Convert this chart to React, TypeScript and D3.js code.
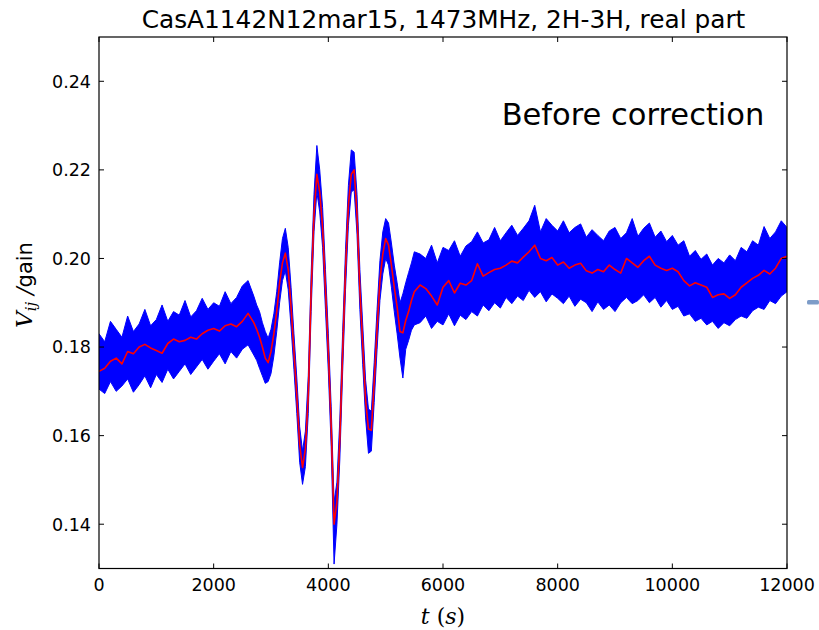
import React from "react";
import * as d3 from "d3";

// time samples (s): 100 s steps, 50 s steps across the fringe oscillation
const timesA = [0,100,200,300,400,500,600,700,800,900,1000,1100,1200,1300,1400,1500,1600,1700,1800,1900,2000,2100,2200,2300,2400,2500,2600,2700];
const timesB = [2750,2800,2850,2900,2950,3000,3050,3100,3150,3200,3250,3300,3350,3400,3450,3500,3550,3600,3650,3700,3750,3800,3850,3900,3950,4000,4050,4100,4150,4200,4250,4300,4350,4400,4450,4500,4550,4600,4650,4700,4750,4800,4850,4900,4950,5000,5050,5100,5150,5200,5250,5300,5350,5400,5450,5500];
const timesC = [5600,5700,5800,5900,6000,6100,6200,6300,6400,6500,6600,6700,6800,6900,7000,7100,7200,7300,7400,7500,7600,7700,7800,7900,8000,8100,8200,8300,8400,8500,8600,8700,8800,8900,9000,9100,9200,9300,9400,9500,9600,9700,9800,9900,10000,10100,10200,10300,10400,10500,10600,10700,10800,10900,11000,11100,11200,11300,11400,11500,11600,11700,11800,11900,12000];

// smoothed (red) series
const smoothA = [0.1745,0.1752,0.1768,0.1775,0.1762,0.1790,0.1785,0.1800,0.1806,0.1798,0.1792,0.1786,0.1808,0.1818,0.1812,0.1815,0.1822,0.1818,0.1830,0.1838,0.1842,0.1836,0.1848,0.1852,0.1846,0.1858,0.1876,0.1855];
const smoothB = [0.1840,0.1822,0.1800,0.1775,0.1765,0.1790,0.1830,0.1880,0.1945,0.1990,0.2012,0.1975,0.1890,0.1790,0.1690,0.1580,0.1528,0.1570,0.1690,0.1925,0.2100,0.2190,0.2150,0.2070,0.1930,0.1790,0.1620,0.1400,0.1450,0.1590,0.1790,0.1975,0.2120,0.2190,0.2200,0.2100,0.1930,0.1805,0.1680,0.1615,0.1612,0.1720,0.1840,0.1950,0.2010,0.2045,0.2030,0.1985,0.1935,0.1890,0.1835,0.1832,0.1860,0.1880,0.1905,0.1925];
const smoothC = [0.1940,0.1932,0.1915,0.1895,0.1935,0.1950,0.1922,0.1944,0.1940,0.1950,0.1988,0.1960,0.1968,0.1975,0.1978,0.1985,0.1994,0.1990,0.2003,0.2015,0.2030,0.2000,0.1995,0.2002,0.1985,0.1992,0.1978,0.1985,0.1989,0.1972,0.1967,0.1975,0.1970,0.1985,0.1975,0.1967,0.2000,0.1990,0.1980,0.1995,0.2005,0.1985,0.1978,0.1973,0.1978,0.1970,0.1950,0.1938,0.1945,0.1940,0.1935,0.1912,0.1918,0.1920,0.1910,0.1918,0.1935,0.1945,0.1955,0.1962,0.1973,0.1965,0.1978,0.2000,0.2005];

// raw (blue) series: upper and lower extent of the noise
const rawHighA = [0.1830,0.1812,0.1858,0.1840,0.1822,0.1870,0.1835,0.1852,0.1885,0.1848,0.1862,0.1895,0.1858,0.1880,0.1872,0.1905,0.1868,0.1882,0.1910,0.1885,0.1900,0.1892,0.1925,0.1898,0.1912,0.1938,0.1950,0.1915];
const rawLowA = [0.1705,0.1695,0.1722,0.1700,0.1712,0.1728,0.1698,0.1715,0.1735,0.1708,0.1738,0.1720,0.1750,0.1728,0.1745,0.1762,0.1738,0.1755,0.1772,0.1750,0.1768,0.1785,0.1762,0.1790,0.1775,0.1795,0.1805,0.1782];
const rawHighB = [0.1895,0.1880,0.1855,0.1835,0.1820,0.1840,0.1875,0.1925,0.1990,0.2045,0.2068,0.2025,0.1935,0.1830,0.1730,0.1620,0.1565,0.1610,0.1735,0.1965,0.2145,0.2255,0.2200,0.2115,0.1975,0.1830,0.1665,0.1450,0.1495,0.1635,0.1835,0.2020,0.2165,0.2245,0.2240,0.2145,0.1975,0.1850,0.1725,0.1660,0.1655,0.1765,0.1885,0.1995,0.2060,0.2090,0.2080,0.2035,0.1985,0.1945,0.1900,0.1920,0.1945,0.1968,0.1990,0.2015];
const rawLowB = [0.1770,0.1752,0.1735,0.1718,0.1722,0.1740,0.1780,0.1835,0.1900,0.1950,0.1972,0.1930,0.1845,0.1750,0.1650,0.1540,0.1490,0.1530,0.1650,0.1880,0.2060,0.2150,0.2105,0.2025,0.1885,0.1745,0.1575,0.1310,0.1400,0.1545,0.1745,0.1930,0.2075,0.2150,0.2155,0.2055,0.1885,0.1760,0.1640,0.1560,0.1565,0.1675,0.1795,0.1905,0.1965,0.2000,0.1985,0.1935,0.1880,0.1830,0.1775,0.1730,0.1795,0.1815,0.1838,0.1850];
const rawHighC = [0.2010,0.2000,0.2030,0.1990,0.2025,0.2018,0.2040,0.2005,0.2028,0.2038,0.2060,0.2035,0.2042,0.2070,0.2040,0.2058,0.2075,0.2052,0.2068,0.2085,0.2120,0.2060,0.2090,0.2075,0.2062,0.2085,0.2058,0.2070,0.2078,0.2048,0.2065,0.2052,0.2040,0.2062,0.2070,0.2045,0.2058,0.2090,0.2050,0.2068,0.2080,0.2048,0.2062,0.2038,0.2052,0.2030,0.2040,0.2005,0.2018,0.1998,0.2010,0.1985,0.2000,0.1990,0.2008,0.1995,0.2025,0.2015,0.2040,0.2030,0.2072,0.2045,0.2060,0.2085,0.2070];
const rawLowC = [0.1855,0.1870,0.1842,0.1858,0.1850,0.1875,0.1848,0.1872,0.1862,0.1880,0.1870,0.1895,0.1882,0.1900,0.1888,0.1912,0.1898,0.1915,0.1905,0.1928,0.1912,0.1925,0.1902,0.1920,0.1910,0.1898,0.1915,0.1892,0.1908,0.1900,0.1880,0.1902,0.1885,0.1895,0.1880,0.1900,0.1912,0.1898,0.1905,0.1918,0.1900,0.1912,0.1890,0.1905,0.1885,0.1892,0.1870,0.1875,0.1858,0.1865,0.1850,0.1858,0.1842,0.1855,0.1848,0.1862,0.1870,0.1865,0.1882,0.1890,0.1885,0.1905,0.1898,0.1915,0.1925];

const xTicks = [0, 2000, 4000, 6000, 8000, 10000, 12000];
const yTicks = [0.14, 0.16, 0.18, 0.20, 0.22, 0.24];

const times = [...timesA, ...timesB, ...timesC];
const smooth = [...smoothA, ...smoothB, ...smoothC];
const rawHigh = [...rawHighA, ...rawHighB, ...rawHighC];
const rawLow = [...rawLowA, ...rawLowB, ...rawLowC];

const W = 819, H = 630;
const L = 99, R = 787, T = 37, B = 568.5;

export default function App() {
  const x = d3.scaleLinear().domain([0, 12000]).range([L, R]);
  const y = d3.scaleLinear().domain([0.13, 0.25]).range([B, T]);

  const idx = d3.range(times.length);
  const area = d3.area<number>()
    .x((i) => x(times[i]))
    .y0((i) => y(rawLow[i]))
    .y1((i) => y(rawHigh[i]));
  const redPath = d3.line<number>().x((i) => x(times[i])).y((i) => y(smooth[i]))(idx) || "";

  const sans = "'DejaVu Sans', sans-serif";
  const serif = "'DejaVu Serif', serif";
  const tl = 5;

  return (
    <svg width={W} height={H} style={{ position: "absolute", left: 0, top: 0, background: "#fff" }}>
      <defs>
        <clipPath id="plot">
          <rect x={L} y={T} width={R - L} height={B - T} />
        </clipPath>
      </defs>
      <rect x={0} y={0} width={W} height={H} fill="#fff" />
      <g clipPath="url(#plot)">
        <path d={area(idx) || ""} fill="#0000ff" stroke="#0000ff" strokeWidth={1} strokeLinejoin="miter" strokeMiterlimit={10} />
        <path d={redPath} fill="none" stroke="#ff0000" strokeWidth={1.6} strokeLinejoin="round" />
      </g>
      {/* frame */}
      <rect x={L} y={T} width={R - L} height={B - T} fill="none" stroke="#000" strokeWidth={1.2} />
      {xTicks.map((t) => (
        <g key={"x" + t}>
          <line x1={x(t)} x2={x(t)} y1={B} y2={B - tl} stroke="#000" strokeWidth={1} />
          <line x1={x(t)} x2={x(t)} y1={T} y2={T + tl} stroke="#000" strokeWidth={1} />
          <text x={x(t)} y={591} textAnchor="middle" fontFamily={sans} fontSize={17.5} fill="#000">{t}</text>
        </g>
      ))}
      {yTicks.map((v) => (
        <g key={"y" + v}>
          <line x1={L} x2={L + tl} y1={y(v)} y2={y(v)} stroke="#000" strokeWidth={1} />
          <line x1={R} x2={R - tl} y1={y(v)} y2={y(v)} stroke="#000" strokeWidth={1} />
          <text x={91} y={y(v) + 6.3} textAnchor="end" fontFamily={sans} fontSize={17.5} fill="#000">{v.toFixed(2)}</text>
        </g>
      ))}
      <text x={443.5} y={28} textAnchor="middle" fontFamily={sans} fontSize={24.8} fill="#000">
        CasA1142N12mar15, 1473MHz, 2H-3H, real part
      </text>
      <text x={633} y={125} textAnchor="middle" fontFamily={sans} fontSize={30.5} fill="#000">
        Before correction
      </text>
      <text x={443} y={624} textAnchor="middle" fontSize={22} fill="#000">
        <tspan fontFamily={serif} fontStyle="italic">t</tspan>
        <tspan fontFamily={serif}> (</tspan>
        <tspan fontFamily={serif} fontStyle="italic">s</tspan>
        <tspan fontFamily={serif}>)</tspan>
      </text>
      <text transform="translate(32,285) rotate(-90)" textAnchor="middle" fill="#000">
        <tspan fontFamily={serif} fontStyle="italic" fontSize={23}>V</tspan>
        <tspan fontFamily={serif} fontStyle="italic" fontSize={15} dy={4}>ij</tspan>
        <tspan fontFamily={serif} fontStyle="italic" fontSize={22} dy={-4}> /</tspan>
        <tspan fontFamily={sans} fontSize={21}>gain</tspan>
      </text>
      <rect x={807} y={300} width={12} height={4.5} rx={1.5} fill="#7d9cc8" />
    </svg>
  );
}
